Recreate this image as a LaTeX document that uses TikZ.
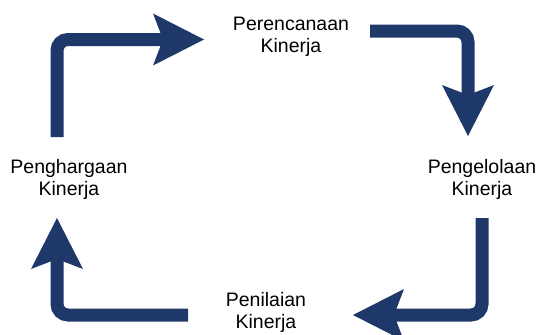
\documentclass[tikz,border=0pt]{standalone}
\usepackage{fontspec}
\setmainfont{Liberation Sans}
\usetikzlibrary{arrows.meta}
\definecolor{navy}{RGB}{30,56,106}
\begin{document}
\begin{tikzpicture}[x=1pt,y=-1pt,
  label/.style={align=center,font=\fontsize{19.5}{22}\selectfont,inner sep=0pt,anchor=base},
  flow/.style={draw=navy,line width=13pt,rounded corners=11pt,
    -{Stealth[length=51pt,width=52pt,inset=10pt,line width=0pt,fill=navy]}}]
  \useasboundingbox (0,0) rectangle (536,335);

  % stage labels (anchored at the baseline of the second line)
  \node[label] (plan)   at (291,52)  {Perencanaan\\Kinerja};
  \node[label] (manage) at (482,195) {Pengelolaan\\Kinerja};
  \node[label] (assess) at (266,328) {Penilaian\\Kinerja};
  \node[label] (reward) at (69,195)  {Penghargaan\\Kinerja};

  % corner points of the cycle
  \coordinate (a1) at (57,137);  \coordinate (c1) at (57,39.5);  \coordinate (t1) at (204,39.5);
  \coordinate (a2) at (370,31);  \coordinate (c2) at (468,31);   \coordinate (t2) at (468,136);
  \coordinate (a3) at (482,218); \coordinate (c3) at (482,315);  \coordinate (t3) at (353,315);
  \coordinate (a4) at (188,315); \coordinate (c4) at (57,315);   \coordinate (t4) at (57,218);

  % cycle arrows
  \draw[flow] (a1) -- (c1) -- (t1);
  \draw[flow] (a2) -- (c2) -- (t2);
  \draw[flow] (a3) -- (c3) -- (t3);
  \draw[flow] (a4) -- (c4) -- (t4);
\end{tikzpicture}
\end{document}
